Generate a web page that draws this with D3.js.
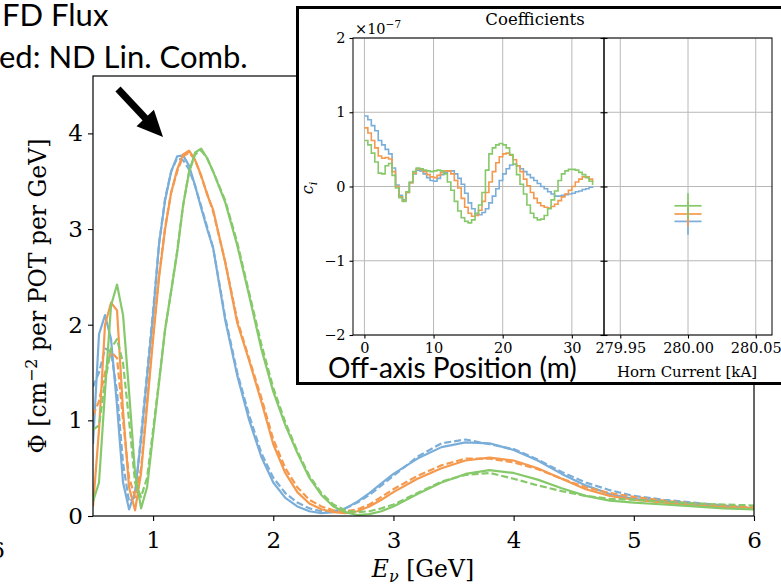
<!DOCTYPE html>
<html><head><meta charset="utf-8">
<script src="https://cdn.jsdelivr.net/npm/d3@7"></script>
<style>body{margin:0;background:#fff}svg{display:block}</style>
</head><body>
<svg id="c" width="781" height="586"></svg>
<script>
// ---------------- DATA ----------------
const energy = [0.5,0.55,0.6,0.65,0.7,0.75,0.8,0.85,0.9,0.95,1.0,1.05,1.1,1.15,1.2,1.25,1.3,1.35,1.4,1.45,1.5,1.6,1.7,1.8,1.9,2.0,2.1,2.2,2.3,2.4,2.5,2.6,2.7,2.8,2.9,3.0,3.2,3.4,3.6,3.8,4.0,4.2,4.4,4.6,4.8,5.0,5.25,5.5,5.75,6.0];
const blueFD   = [0.75,1.9,2.1,1.85,1.15,0.35,0.07,0.25,0.8,1.45,2.1,2.85,3.3,3.6,3.76,3.77,3.66,3.45,3.22,3.0,2.8,2.05,1.47,1.0,0.62,0.35,0.19,0.1,0.05,0.03,0.04,0.08,0.15,0.24,0.34,0.44,0.6,0.72,0.77,0.76,0.69,0.58,0.44,0.32,0.23,0.18,0.15,0.13,0.1,0.08];
const blueND   = [1.35,1.5,1.75,1.72,1.3,0.55,0.15,0.2,0.85,1.5,2.15,2.85,3.32,3.6,3.74,3.72,3.62,3.45,3.24,3.02,2.8,2.08,1.5,1.05,0.66,0.4,0.24,0.14,0.08,0.05,0.05,0.08,0.14,0.22,0.32,0.42,0.62,0.76,0.8,0.75,0.7,0.59,0.46,0.35,0.27,0.21,0.17,0.14,0.11,0.08];
const orangeFD = [0.1,0.9,2.0,2.23,2.15,1.1,0.3,0.06,0.45,1.15,1.85,2.5,3.0,3.38,3.62,3.78,3.82,3.72,3.56,3.36,3.2,2.65,2.02,1.62,1.2,0.75,0.45,0.25,0.13,0.07,0.04,0.03,0.05,0.1,0.17,0.25,0.39,0.5,0.58,0.61,0.58,0.5,0.39,0.28,0.21,0.17,0.14,0.11,0.09,0.08];
const orangeND = [1.05,1.2,1.5,1.72,1.65,1.0,0.4,0.2,0.5,1.2,1.9,2.52,3.02,3.38,3.6,3.76,3.8,3.72,3.55,3.37,3.18,2.66,2.05,1.64,1.24,0.8,0.5,0.3,0.17,0.1,0.06,0.05,0.07,0.12,0.2,0.28,0.42,0.53,0.6,0.6,0.56,0.49,0.39,0.3,0.24,0.2,0.16,0.13,0.11,0.09];
const greenFD  = [0.15,0.35,1.3,2.2,2.42,2.1,1.3,0.45,0.08,0.3,0.85,1.4,1.95,2.35,2.75,3.25,3.6,3.8,3.84,3.74,3.6,3.28,2.83,2.3,1.75,1.3,0.95,0.66,0.4,0.22,0.1,0.04,0.01,0.02,0.05,0.1,0.23,0.35,0.44,0.48,0.45,0.38,0.29,0.21,0.16,0.14,0.12,0.1,0.08,0.07];
const greenND  = [0.9,0.95,1.4,1.75,1.85,1.6,1.0,0.35,0.2,0.4,0.9,1.42,1.95,2.35,2.77,3.25,3.6,3.78,3.82,3.74,3.6,3.3,2.86,2.33,1.8,1.34,0.98,0.68,0.42,0.24,0.12,0.06,0.04,0.05,0.08,0.12,0.24,0.36,0.43,0.45,0.39,0.32,0.26,0.21,0.18,0.17,0.15,0.13,0.12,0.11];
const energyTicks = [1,2,3,4,5,6];
const fluxTicks = [0,1,2,3,4];

const offAxis = [0,0.5,1,1.5,2,2.5,3,3.5,4,4.5,5,5.5,6,6.5,7,7.5,8,8.5,9,9.5,10,10.5,11,11.5,12,12.5,13,13.5,14,14.5,15,15.5,16,16.5,17,17.5,18,18.5,19,19.5,20,20.5,21,21.5,22,22.5,23,23.5,24,24.5,25,25.5,26,26.5,27,27.5,28,28.5,29,29.5,30,30.5,31,31.5,32,32.5,33];
const coefBlue   = [0.95,0.9,0.82,0.75,0.62,0.56,0.5,0.44,0.25,0.02,-0.12,-0.18,-0.08,0.05,0.17,0.22,0.21,0.17,0.12,0.08,0.07,0.11,0.16,0.19,0.21,0.21,0.17,0.11,0.03,-0.09,-0.22,-0.3,-0.37,-0.38,-0.35,-0.3,-0.22,-0.13,-0.03,0.08,0.17,0.24,0.29,0.3,0.28,0.24,0.2,0.16,0.12,0.08,0.04,0.0,-0.03,-0.07,-0.1,-0.13,-0.13,-0.12,-0.11,-0.1,-0.09,-0.07,-0.06,-0.04,-0.03,-0.01,0.0];
const coefOrange = [0.79,0.72,0.62,0.52,0.41,0.38,0.39,0.37,0.2,0.0,-0.14,-0.19,-0.08,0.05,0.18,0.24,0.23,0.2,0.16,0.13,0.12,0.15,0.19,0.21,0.21,0.17,0.08,-0.02,-0.16,-0.28,-0.36,-0.4,-0.39,-0.32,-0.2,-0.08,0.06,0.2,0.32,0.4,0.44,0.45,0.42,0.36,0.28,0.2,0.1,0.01,-0.08,-0.16,-0.22,-0.26,-0.28,-0.29,-0.27,-0.24,-0.19,-0.14,-0.1,-0.05,0.0,0.06,0.1,0.13,0.13,0.1,0.06];
const coefGreen  = [0.62,0.56,0.45,0.33,0.18,0.17,0.28,0.31,0.15,-0.02,-0.15,-0.2,-0.07,0.06,0.2,0.25,0.24,0.22,0.21,0.2,0.21,0.22,0.21,0.17,0.06,-0.05,-0.2,-0.33,-0.42,-0.47,-0.49,-0.45,-0.36,-0.25,-0.08,0.22,0.44,0.52,0.56,0.58,0.56,0.52,0.43,0.3,0.16,0.03,-0.1,-0.25,-0.36,-0.42,-0.45,-0.44,-0.39,-0.3,-0.18,-0.06,0.08,0.17,0.21,0.23,0.23,0.22,0.19,0.16,0.12,0.07,0.02];
const offAxisTicks = [0,10,20,30];
const coefTicks = [-2,-1,0,1,2];

const hornCurrent    = [280.0,280.0,280.0];
const hornCoef       = [-0.47,-0.37,-0.26];
const hornCoefErr    = [0.18,0.17,0.17];
const hornCurrentErr = [0.01,0.01,0.01];
const hornTicks = [279.95,280.00,280.05];

const colors = ["#7aaed9","#f4994e","#86c96a"];

// ---------------- DRAW ----------------
const svg = d3.select("#c");
const serif = "'DejaVu Serif', serif";
const sans = "Lato, 'Open Sans', sans-serif";

// main axes
const x = d3.scaleLinear().domain([0.5,6]).range([93,754]);
const y = d3.scaleLinear().domain([0,4.6]).range([516,76]);

svg.append("defs").append("clipPath").attr("id","mclip")
  .append("rect").attr("x",93).attr("y",76).attr("width",661).attr("height",440);

const line = d3.line().x((d,i)=>x(energy[i])).y(d=>y(d));
const mainSeries = [
  {v:blueFD,c:colors[0],dash:null},{v:blueND,c:colors[0],dash:"7,3"},
  {v:orangeFD,c:colors[1],dash:null},{v:orangeND,c:colors[1],dash:"7,3"},
  {v:greenFD,c:colors[2],dash:null},{v:greenND,c:colors[2],dash:"7,3"}
];
const lg = svg.append("g").attr("clip-path","url(#mclip)");
mainSeries.forEach(s=>{
  lg.append("path").attr("d",line(s.v)).attr("fill","none")
    .attr("stroke",s.c).attr("stroke-width",2.2)
    .attr("stroke-dasharray",s.dash).attr("stroke-linejoin","round");
});

function styleAxis(g,size){
  g.select(".domain").remove();
  g.selectAll(".tick line").attr("stroke","#000").attr("stroke-width",1.1);
  g.selectAll(".tick text").attr("font-family",serif).attr("font-size",size).attr("fill","#000");
}
const gx = svg.append("g").attr("transform","translate(0,516)")
  .call(d3.axisBottom(x).tickValues(energyTicks).tickSize(5).tickPadding(11).tickFormat(d3.format("d")));
styleAxis(gx,23);
const gy = svg.append("g").attr("transform","translate(93,0)")
  .call(d3.axisLeft(y).tickValues(fluxTicks).tickSize(5).tickPadding(5).tickFormat(d3.format("d")));
styleAxis(gy,23);

svg.append("rect").attr("x",93).attr("y",76).attr("width",661).attr("height",440)
  .attr("fill","none").attr("stroke","#000").attr("stroke-width",1.2);

// axis labels
const yl = svg.append("text").attr("transform","translate(46,296) rotate(-90)")
  .attr("text-anchor","middle").attr("font-family",serif).attr("font-size",23.5);
yl.append("tspan").text("Φ [cm");
yl.append("tspan").attr("font-size",16).attr("dy",-9).text("−2");
yl.append("tspan").attr("dy",9).text(" per POT per GeV]");

const xl = svg.append("text").attr("x",423).attr("y",577)
  .attr("text-anchor","middle").attr("font-family",serif).attr("font-size",23.5);
xl.append("tspan").attr("font-style","italic").text("E");
xl.append("tspan").attr("font-style","italic").attr("font-size",16).attr("dy",5).text("ν");
xl.append("tspan").attr("dy",-5).text(" [GeV]");

// cut-off tick label at left edge
svg.append("text").attr("x",5).attr("y",558).attr("text-anchor","end")
  .attr("font-family",serif).attr("font-size",23).text("6");

// annotation text
svg.append("text").attr("x",2).attr("y",26).attr("font-family",sans).attr("font-size",31).text("FD Flux");
svg.append("text").attr("x",-1).attr("y",68).attr("font-family",sans).attr("font-size",31).text("ed: ND Lin. Comb.");

// arrow
svg.append("line").attr("x1",118).attr("y1",89).attr("x2",147).attr("y2",120)
  .attr("stroke","#000").attr("stroke-width",7);
svg.append("polygon").attr("points","136.5,126.2 153.9,109.8 163,137").attr("fill","#000");

// ---------------- INSET ----------------
const ins = svg.append("g");
ins.append("rect").attr("x",297.5).attr("y",7.5).attr("width",500).attr("height",376)
  .attr("fill","#fff").attr("stroke","#000").attr("stroke-width",3);

const ix = d3.scaleLinear().domain([-1.65,34.65]).range([353,604]);
const iy = d3.scaleLinear().domain([-2,2]).range([335,38]);
const rx = d3.scaleLinear().domain([279.938,280.062]).range([604,772]);

const grid = ins.append("g").attr("stroke","#b8b8b8").attr("stroke-width",1);
offAxisTicks.forEach(v=>grid.append("line").attr("x1",ix(v)).attr("x2",ix(v)).attr("y1",iy(2)).attr("y2",iy(-2)));
hornTicks.forEach(v=>grid.append("line").attr("x1",rx(v)).attr("x2",rx(v)).attr("y1",iy(2)).attr("y2",iy(-2)));
coefTicks.forEach(v=>grid.append("line").attr("x1",353).attr("x2",772).attr("y1",iy(v)).attr("y2",iy(v)));

const stepLine = d3.line().curve(d3.curveStepAfter).x((d,i)=>ix(offAxis[i])).y(d=>iy(d));
[coefBlue,coefOrange,coefGreen].forEach((s,k)=>{
  ins.append("path").attr("d",stepLine(s)).attr("fill","none")
    .attr("stroke",colors[k]).attr("stroke-width",1.6);
});

// horn current error bars
hornCoef.forEach((v,k)=>{
  const g = ins.append("g").attr("stroke",colors[k]).attr("stroke-width",1.7);
  g.append("line").attr("x1",rx(hornCurrent[k])).attr("x2",rx(hornCurrent[k]))
    .attr("y1",iy(v-hornCoefErr[k])).attr("y2",iy(v+hornCoefErr[k]));
  g.append("line").attr("x1",rx(hornCurrent[k]-hornCurrentErr[k])).attr("x2",rx(hornCurrent[k]+hornCurrentErr[k]))
    .attr("y1",iy(v)).attr("y2",iy(v));
});

// spines
ins.append("rect").attr("x",353).attr("y",38).attr("width",251).attr("height",297)
  .attr("fill","none").attr("stroke","#000").attr("stroke-width",1);
ins.append("rect").attr("x",604).attr("y",38).attr("width",168).attr("height",297)
  .attr("fill","none").attr("stroke","#000").attr("stroke-width",1);

const iyAx = ins.append("g").attr("transform","translate(353,0)")
  .call(d3.axisLeft(iy).tickValues(coefTicks).tickSize(3.5).tickPadding(4).tickFormat(d3.format("d")));
styleAxis(iyAx,14.5);
const iyAx2 = ins.append("g").attr("transform","translate(604,0)")
  .call(d3.axisRight(iy).tickValues(coefTicks).tickSize(3.5).tickFormat(""));
styleAxis(iyAx2,14.5);
const iyAx3 = ins.append("g").attr("transform","translate(604,0)")
  .call(d3.axisLeft(iy).tickValues(coefTicks).tickSize(3.5).tickFormat(""));
styleAxis(iyAx3,14.5);
const ixAx = ins.append("g").attr("transform","translate(0,335)")
  .call(d3.axisBottom(ix).tickValues(offAxisTicks).tickSize(3.5).tickPadding(4).tickFormat(d3.format("d")));
styleAxis(ixAx,14.5);
const rxAx = ins.append("g").attr("transform","translate(0,335)")
  .call(d3.axisBottom(rx).tickValues(hornTicks).tickSize(3.5).tickPadding(4).tickFormat(d3.format(".2f")));
styleAxis(rxAx,14.5);

ins.append("text").attr("x",535).attr("y",25).attr("text-anchor","middle")
  .attr("font-family",serif).attr("font-size",16.5).text("Coefficients");
const sci = ins.append("text").attr("x",355).attr("y",34).attr("font-family",serif).attr("font-size",14.5);
sci.append("tspan").text("×10");
sci.append("tspan").attr("font-size",10.5).attr("dy",-6).text("−7");

const ci = ins.append("text").attr("transform","translate(313,188) rotate(-90)")
  .attr("text-anchor","middle").attr("font-family",serif).attr("font-size",16);
ci.append("tspan").attr("font-style","italic").text("c");
ci.append("tspan").attr("font-style","italic").attr("font-size",11).attr("dy",4).text("i");

ins.append("text").attr("x",687).attr("y",377).attr("text-anchor","middle")
  .attr("font-family",serif).attr("font-size",15).text("Horn Current [kA]");

ins.append("text").attr("x",328).attr("y",378).attr("font-family",sans).attr("font-size",28).text("Off-axis Position (m)");
</script>
</body></html>
